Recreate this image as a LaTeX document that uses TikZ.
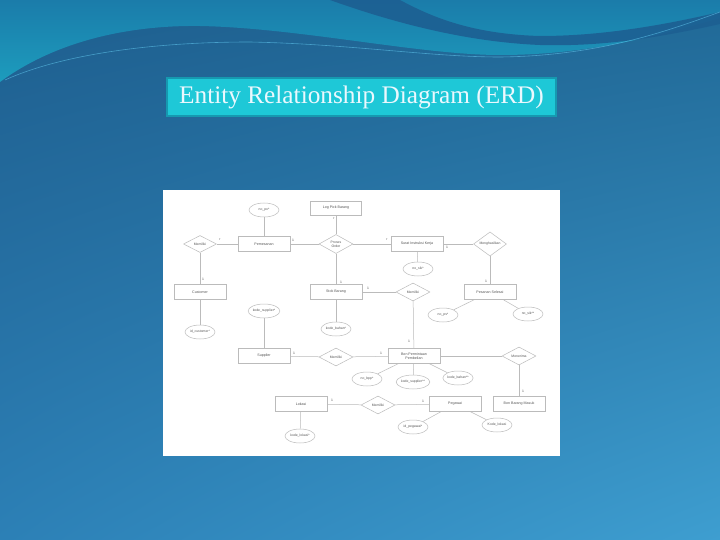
\documentclass[tikz,border=0pt]{standalone}
\usepackage{fontspec}
\setmainfont{Liberation Sans}
\newfontfamily\titlefont{Liberation Serif}
\usetikzlibrary{shapes.geometric,shadings}
\definecolor{lg}{HTML}{BBBBBB}
\definecolor{tx}{HTML}{555555}
\definecolor{tfill}{HTML}{1EC8D7}
\definecolor{tborder}{HTML}{1699B0}
\definecolor{teal1}{HTML}{1C9CBD}
\definecolor{teal2}{HTML}{1B7CAA}
\definecolor{dband}{HTML}{1D5F92}
\definecolor{bgul}{RGB}{30,94,142}
\definecolor{bgur}{RGB}{32,104,150}
\definecolor{bgll}{RGB}{44,128,182}
\definecolor{bglr}{RGB}{62,158,208}
\tikzset{
  ent/.style={draw=lg, fill=white, line width=0.5pt, minimum width=52pt, minimum height=15pt, inner sep=0pt, font=\fontsize{3.6}{4}\selectfont, text=tx, align=center},
  attr/.style={ellipse, draw=lg, fill=white, line width=0.5pt, minimum width=30pt, minimum height=14pt, inner sep=0pt, font=\fontsize{3.4}{4}\selectfont, text=tx},
  rel/.style={diamond, draw=lg, fill=white, line width=0.5pt, minimum width=34pt, minimum height=18pt, inner sep=0pt, font=\fontsize{3.4}{4}\selectfont, text=tx, align=center},
  card/.style={inner sep=0pt, font=\fontsize{3.4}{4}\selectfont, text=tx},
  conn/.style={draw=lg, line width=0.5pt}
}
\begin{document}
\begin{tikzpicture}[x=1pt,y=-1pt]
\useasboundingbox (0,0) rectangle (720,540);
% background
\shade[upper left=bgul, upper right=bgur, lower left=bgll, lower right=bglr]
  (0,0) rectangle (720,540);
% waves
\shade[top color=teal2, bottom color=teal1]
  (0,0) -- (0,82) .. controls (50,45) and (120,25) .. (200,26)
  .. controls (300,28) and (420,55) .. (500,55)
  .. controls (590,55) and (660,35) .. (720,18) -- (720,0) -- cycle;
\fill[dband, opacity=0.9]
  (330,0) .. controls (400,25) and (470,42) .. (540,45)
  .. controls (610,47) and (670,35) .. (720,24) -- (720,12)
  .. controls (660,26) and (600,36) .. (540,36)
  .. controls (470,34) and (430,16) .. (400,0) -- cycle;
\draw[cyan!60!white, opacity=0.55, line width=0.6pt]
  (5,80) .. controls (60,55) and (150,42) .. (250,42)
  .. controls (350,44) and (430,57) .. (500,57) .. controls (600,56) and (670,30) .. (720,12);
% title
\node[fill=tfill, draw=tborder, line width=1.5pt, minimum width=389pt, minimum height=38pt, inner sep=0pt,
      text=white!92!cyan, font=\titlefont\fontsize{25.3}{28}\selectfont] (title) at (361.5,97) {Entity Relationship Diagram (ERD)};
% ERD panel
\node[fill=white, draw=none, minimum width=397pt, minimum height=266pt, inner sep=0pt] (panel) at (361.5,323) {};
% nodes
\node[attr] (nopo) at (264,210) {no\_po*};
\node[ent, minimum width=51pt, minimum height=14pt] (log) at (336,208) {Log Pick Barang};
\node[ent] (pem) at (264,244) {Pemesanan};
\node[rel, minimum width=33pt, minimum height=17pt] (mem1) at (200,244) {Memiliki};
\node[rel, minimum height=19pt] (proses) at (336,244) {Proses\\Order};
\node[ent] (sik) at (417,244) {Surat Instruksi Kerja};
\node[rel, minimum width=33pt] (meng) at (490,244) {Menghasilkan};
\node[attr] (nosik) at (418,269) {no\_sik*};
\node[ent] (cust) at (200,292) {Customer};
\node[ent] (stok) at (336,292) {Stok Barang};
\node[rel] (mem2) at (413,292) {Memiliki};
\node[ent] (ps) at (490,292) {Pesanan Selesai};
\node[attr] (nops) at (443,315) {no\_ps*};
\node[attr] (nosik2) at (528,314) {no\_sik**};
\node[attr] (kdsup) at (264,311) {kode\_supplier*};
\node[attr] (idcust) at (200,332) {id\_customer*};
\node[attr] (kdbhn) at (336,329) {kode\_bahan*};
\node[ent] (sup) at (264,356) {Supplier};
\node[rel] (mem3) at (336,357) {Memiliki};
\node[ent] (bon) at (414,356) {Bon Permintaan\\Pembelian};
\node[rel] (mener) at (519,356) {Menerima};
\node[attr] (nobpp) at (367,379) {no\_bpp*};
\node[attr] (kdsup2) at (413,382) {kode\_supplier**};
\node[attr] (kdbhn2) at (458,378) {kode\_bahan**};
\node[ent] (lok) at (301,404) {Lokasi};
\node[rel] (mem4) at (378,405) {Memiliki};
\node[ent] (peg) at (455,404) {Pegawai};
\node[ent] (bbm) at (519,404) {Bon Barang Masuk};
\node[attr] (kdlok) at (300,436) {kode\_lokasi*};
\node[attr] (idpeg) at (413,427) {id\_pegawai*};
\node[attr] (kdlok2) at (497,425) {Kode\_lokasi};
% connectors
\draw[conn] (nopo) -- (pem);
\draw[conn] (mem1) -- (pem);
\draw[conn] (mem1) -- (cust);
\draw[conn] (cust) -- (idcust);
\draw[conn] (pem) -- (proses);
\draw[conn] (proses) -- (log);
\draw[conn] (proses) -- (sik);
\draw[conn] (proses) -- (stok);
\draw[conn] (sik) -- (meng);
\draw[conn] (sik) -- (nosik);
\draw[conn] (meng) -- (ps);
\draw[conn] (ps) -- (nops);
\draw[conn] (ps) -- (nosik2);
\draw[conn] (stok) -- (mem2);
\draw[conn] (stok) -- (kdbhn);
\draw[conn] (mem2) -- (bon);
\draw[conn] (kdsup) -- (sup);
\draw[conn] (sup) -- (mem3);
\draw[conn] (mem3) -- (bon);
\draw[conn] (bon) -- (mener);
\draw[conn] (mener) -- (bbm);
\draw[conn] (bon) -- (nobpp);
\draw[conn] (bon) -- (kdsup2);
\draw[conn] (bon) -- (kdbhn2);
\draw[conn] (lok) -- (mem4);
\draw[conn] (mem4) -- (peg);
\draw[conn] (lok) -- (kdlok);
\draw[conn] (peg) -- (idpeg);
\draw[conn] (peg) -- (kdlok2);
% cardinalities
\node[card] (c1) at (220,240) {r};
\node[card] (c2) at (293,240) {1};
\node[card] (c3) at (203,279) {1};
\node[card] (c4) at (334,219) {r};
\node[card] (c5) at (341,282) {1};
\node[card] (c6) at (387,240) {r};
\node[card] (c7) at (447,247) {1};
\node[card] (c8) at (486,281) {1};
\node[card] (c9) at (368,288) {1};
\node[card] (c10) at (294,353) {1};
\node[card] (c11) at (409,341) {1};
\node[card] (c12) at (381,353) {1};
\node[card] (c13) at (332,400) {1};
\node[card] (c14) at (423,401) {1};
\node[card] (c15) at (523,391) {1};
\end{tikzpicture}
\end{document}
